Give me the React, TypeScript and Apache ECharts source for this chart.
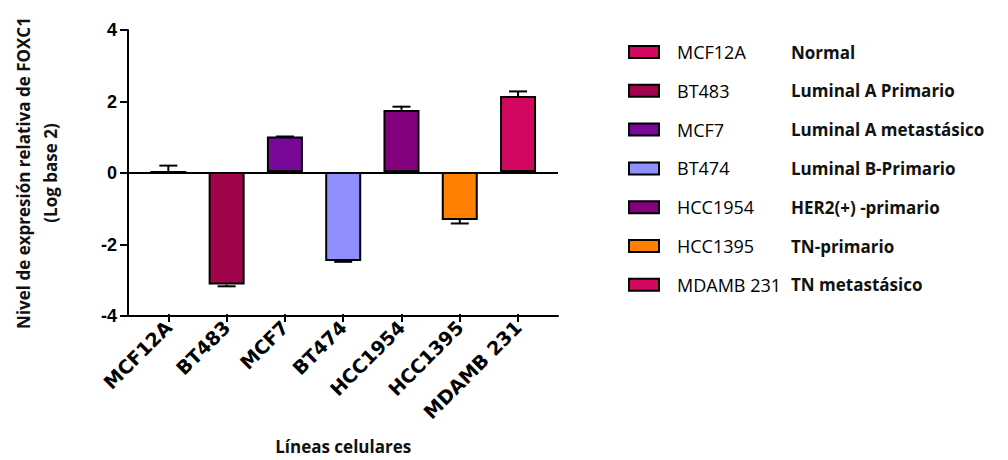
import React, { useEffect, useRef } from "react";
import * as echarts from "echarts";

const categories = ["MCF12A", "BT483", "MCF7", "BT474", "HCC1954", "HCC1395", "MDAMB 231"];
const subtypes = [
  "Normal",
  "Luminal A Primario",
  "Luminal A metastásico",
  "Luminal B-Primario",
  "HER2(+) -primario",
  "TN-primario",
  "TN metastásico",
];
const values = [0, -3.17, 1.0, -2.51, 1.75, -1.35, 2.14];
const sems = [0.18, 0.05, 0, 0.02, 0.09, 0.1, 0.13];
const colors = ["#d2075f", "#a0044a", "#770898", "#8f8fff", "#84007f", "#ff8000", "#d2075f"];
const yTicks = [-4, -2, 0, 2, 4];

export default function App() {
  const ref = useRef<HTMLDivElement>(null);
  useEffect(() => {
    document.body.style.margin = "0";
    if (!ref.current) return;
    const chart = echarts.init(ref.current, null, { renderer: "svg" });
    const barSeries = categories.map((c, i) => ({
      type: "bar",
      name: c,
      xAxisIndex: 1,
      yAxisIndex: 1,
      data: categories.map((_, j) => (j === i ? values[i] : "-")),
      barWidth: 36,
      barGap: "-100%",
      itemStyle: { color: colors[i], borderColor: "#000", borderWidth: 2 },
      z: 3,
    }));
    const errData = categories.map((_, i) => [i, values[i], values[i] + (values[i] < 0 ? -sems[i] : sems[i])]);
    chart.setOption({
      animation: false,
      grid: [
        { left: 128, top: 30, width: 430, height: 286 },
        { left: 139.2, top: 30, width: 408, height: 286 },
      ],
      legend: {
        orient: "vertical",
        left: 623,
        top: 38,
        icon: "rect",
        itemWidth: 30,
        itemHeight: 12,
        itemGap: 20.8,
        data: categories,
        formatter: (name: string) => `{a|${name}}{b|${subtypes[categories.indexOf(name)]}}`,
        textStyle: {
          rich: {
            a: { fontFamily: "Open Sans", fontSize: 18, width: 114, padding: [0, 0, 0, 13], color: "#000", lineHeight: 20 },
            b: { fontFamily: "Open Sans", fontWeight: "bold", fontSize: 17, color: "#111", lineHeight: 20 },
          },
        },
      },
      xAxis: [
        {
          gridIndex: 0,
          type: "category",
          data: [""],
          axisLine: { onZero: false, lineStyle: { color: "#000", width: 2 } },
          axisTick: { show: false },
          axisLabel: { show: false },
        },
        {
          gridIndex: 1,
          type: "category",
          data: categories,
          axisLine: { show: false, onZero: false },
          axisTick: { show: true, alignWithLabel: true, length: 8, lineStyle: { color: "#000", width: 2 } },
          axisLabel: {
            rotate: 45,
            margin: 10,
            color: "#000",
            fontFamily: "DejaVu Sans",
            fontWeight: "bold",
            fontSize: 19,
          },
          name: "Líneas celulares",
          nameLocation: "middle",
          nameGap: 124,
          nameTextStyle: { fontFamily: "Open Sans", fontWeight: "bold", fontSize: 17, color: "#111" },
        },
      ],
      yAxis: [
        {
          gridIndex: 0,
          type: "value",
          min: yTicks[0],
          max: yTicks[yTicks.length - 1],
          interval: 2,
          axisLine: { show: true, lineStyle: { color: "#000", width: 2 } },
          axisTick: { show: true, length: 8, lineStyle: { color: "#000", width: 2 } },
          axisLabel: { margin: 11, color: "#000", fontFamily: "Liberation Sans", fontWeight: "bold", fontSize: 18 },
          splitLine: {
            show: true,
            lineStyle: {
              width: 2,
              color: yTicks.map((t) => (t === 0 ? "#000" : "rgba(0,0,0,0)")),
            },
          },
          name: "Nivel de expresión relativa de FOXC1\n(Log base 2)",
          nameLocation: "middle",
          nameRotate: 90,
          nameGap: 64,
          nameTextStyle: { fontFamily: "Open Sans", fontWeight: "bold", fontSize: 17, lineHeight: 27, color: "#111", align: "center" },
        },
        { gridIndex: 1, type: "value", min: -4, max: 4, show: false },
      ],
      series: [
        ...barSeries,
        {
          type: "custom",
          name: "error",
          xAxisIndex: 1,
          yAxisIndex: 1,
          z: 1,
          data: errData,
          encode: { x: 0, y: [1, 2] },
          renderItem: (params: any, api: any) => {
            const p0 = api.coord([api.value(0), api.value(1)]);
            const p1 = api.coord([api.value(0), api.value(2)]);
            return {
              type: "group",
              children: [
                { type: "line", shape: { x1: p0[0], y1: p0[1], x2: p1[0], y2: p1[1] }, style: { stroke: "#000", lineWidth: 2 } },
                { type: "line", shape: { x1: p1[0] - 9, y1: p1[1], x2: p1[0] + 9, y2: p1[1] }, style: { stroke: "#000", lineWidth: 2 } },
              ],
            };
          },
        },
      ],
    });
    return () => chart.dispose();
  }, []);
  return <div ref={ref} style={{ width: 1008, height: 460 }} />;
}
